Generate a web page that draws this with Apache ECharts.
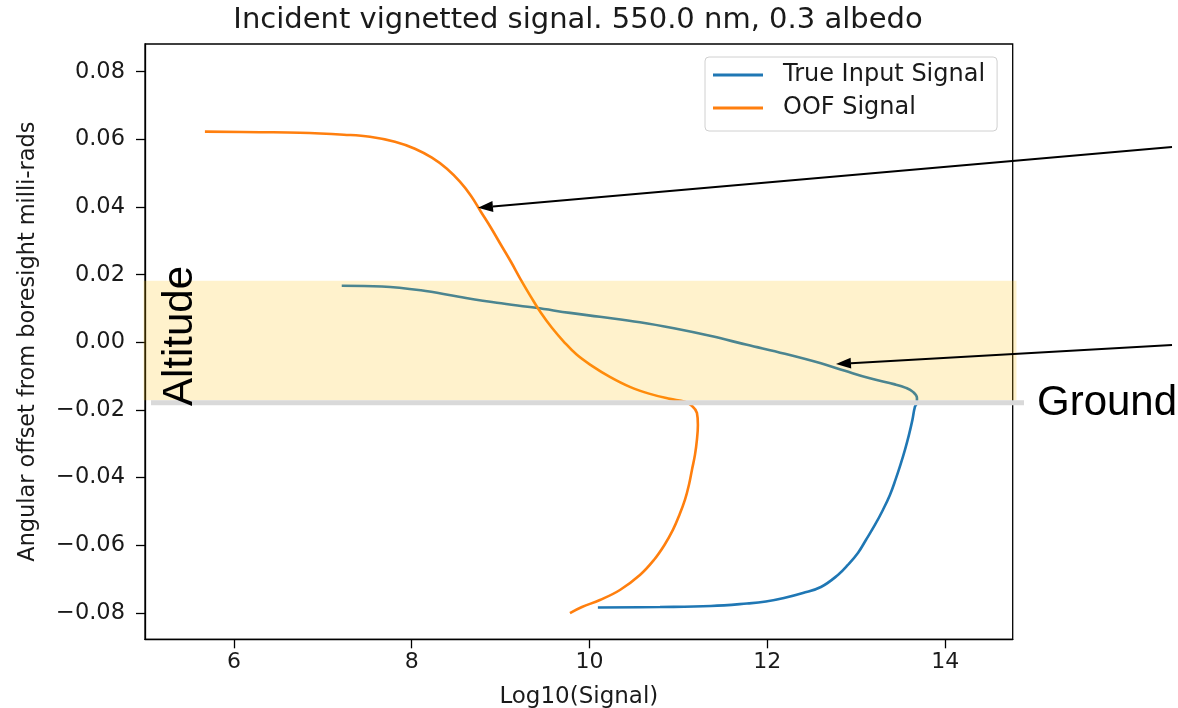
<!DOCTYPE html>
<html><head><meta charset="utf-8">
<script src="https://cdn.jsdelivr.net/npm/echarts@6/dist/echarts.min.js"></script>
<style>html,body{margin:0;padding:0;background:#fff}#c{width:1178px;height:708px}</style>
</head><body><div id="c"></div>
<script>
const titleText = 'Incident vignetted signal. 550.0 nm, 0.3 albedo';
const xName = 'Log10(Signal)';
const yName = 'Angular offset from boresight milli-rads';
const xTicks = [6, 8, 10, 12, 14];
const yTicks = [-0.08, -0.06, -0.04, -0.02, 0, 0.02, 0.04, 0.06, 0.08];
const seriesNames = ['True Input Signal', 'OOF Signal'];

const trueX = [7.213, 7.665, 8.103, 8.531, 8.958, 9.397, 9.780, 10.117, 10.567, 10.949, 11.354, 11.771, 12.198, 12.603, 12.873, 13.154, 13.435, 13.559, 13.638, 13.683, 13.683, 13.660, 13.632, 13.593, 13.548, 13.497, 13.441, 13.379, 13.300, 13.210, 13.109, 13.019, 12.906, 12.794, 12.603, 12.400, 12.187, 11.984, 11.771, 11.366, 10.792, 10.094];
const trueY = [0.01672, 0.01651, 0.01538, 0.01346, 0.01169, 0.01020, 0.00870, 0.00754, 0.00592, 0.00414, 0.00192, -0.00074, -0.00340, -0.00621, -0.00843, -0.01065, -0.01243, -0.01346, -0.01464, -0.01642, -0.01790, -0.01908, -0.02293, -0.02737, -0.03180, -0.03624, -0.04068, -0.04512, -0.04956, -0.05399, -0.05843, -0.06228, -0.06583, -0.06879, -0.07234, -0.07411, -0.07559, -0.07663, -0.07722, -0.07796, -0.07825, -0.07840];

const oofX = [5.674, 6.292, 6.742, 7.237, 7.530, 7.811, 8.036, 8.227, 8.396, 8.542, 8.666, 8.778, 8.891, 9.003, 9.116, 9.228, 9.341, 9.453, 9.577, 9.712, 9.858, 10.027, 10.229, 10.454, 10.679, 10.904, 11.073, 11.151, 11.208, 11.219, 11.208, 11.186, 11.152, 11.118, 11.073, 11.011, 10.938, 10.843, 10.724, 10.567, 10.342, 10.117, 9.915, 9.780];
const oofY = [0.06228, 0.06213, 0.06198, 0.06139, 0.06080, 0.05932, 0.05725, 0.05459, 0.05133, 0.04749, 0.04334, 0.03861, 0.03388, 0.02885, 0.02382, 0.01849, 0.01346, 0.00873, 0.00429, 0.00015, -0.00370, -0.00695, -0.01021, -0.01317, -0.01524, -0.01672, -0.01760, -0.01879, -0.02086, -0.02441, -0.02885, -0.03328, -0.03772, -0.04216, -0.04660, -0.05104, -0.05547, -0.05991, -0.06435, -0.06879, -0.07322, -0.07618, -0.07825, -0.08003];

const bandTop = 0.0182;
const groundLevel = -0.0179;
const oofArrowTip = [8.745, 0.0398];
const trueArrowTip = [12.772, -0.0064];

function zip(xs, ys) { return xs.map((x, i) => [x, ys[i]]); }
const fam = '"DejaVu Sans", sans-serif';
const txt = '#1a1a1a';

const chart = echarts.init(document.getElementById('c'), null, { renderer: 'canvas' });
chart.setOption({
  animation: false,
  backgroundColor: '#fff',
  title: {
    text: titleText, left: 578, top: 6, textAlign: 'center', padding: 0,
    textStyle: { fontFamily: fam, fontSize: 29, fontWeight: 'normal', color: txt }
  },
  legend: {
    data: seriesNames.map(n => ({ name: n, icon: 'rect' })),
    orient: 'vertical', left: 705, top: 57,
    itemWidth: 50, itemHeight: 3, itemGap: 9,
    padding: [6, 12, 11, 8],
    borderColor: '#d0d0d0', borderWidth: 1, borderRadius: 4,
    backgroundColor: 'rgba(255,255,255,0.85)',
    textStyle: { fontFamily: fam, fontSize: 24, color: txt, padding: [0, 0, 0, 15] }
  },
  grid: {
    left: 145, top: 44, right: 165.3, bottom: 68.7,
    containLabel: false, outerBoundsMode: 'none',
    show: true, borderColor: '#000', borderWidth: 1.3, backgroundColor: 'transparent'
  },
  xAxis: {
    type: 'value', min: 5, max: 14.76,
    name: xName, nameLocation: 'middle', nameGap: 46, nameMoveOverlap: false,
    nameTextStyle: { fontFamily: fam, fontSize: 23, color: txt },
    axisLine: { show: true, onZero: false, lineStyle: { color: '#000', width: 1.3 } },
    axisTick: { show: true, inside: false, length: 9, customValues: xTicks, lineStyle: { color: '#000', width: 1.3 } },
    axisLabel: { customValues: xTicks, margin: 12, fontFamily: fam, fontSize: 22, color: txt },
    splitLine: { show: false }
  },
  yAxis: {
    type: 'value', min: -0.0878, max: 0.0882,
    name: yName, nameLocation: 'middle', nameGap: 106, nameRotate: 90, nameMoveOverlap: false,
    nameTextStyle: { fontFamily: fam, fontSize: 22.4, color: txt },
    axisLine: { show: true, onZero: false, lineStyle: { color: '#000', width: 1.3 } },
    axisTick: { show: true, inside: false, length: 9, customValues: yTicks, lineStyle: { color: '#000', width: 1.3 } },
    axisLabel: {
      customValues: yTicks, margin: 20, fontFamily: fam, fontSize: 22.5, color: txt,
      formatter: v => (v < -1e-9 ? '\u2212' : '') + Math.abs(v).toFixed(2)
    },
    splitLine: { show: false }
  },
  series: [
    {
      type: 'line', name: seriesNames[0], data: zip(trueX, trueY), smooth: 0.4,
      symbol: 'none', showSymbol: false, clip: true,
      lineStyle: { color: '#1f77b4', width: 2.6 }, itemStyle: { color: '#1f77b4' }, z: 3
    },
    {
      type: 'line', name: seriesNames[1], data: zip(oofX, oofY), smooth: 0.4,
      symbol: 'none', showSymbol: false, clip: true,
      lineStyle: { color: '#ff7f0e', width: 2.6 }, itemStyle: { color: '#ff7f0e' }, z: 3
    }
  ]
});

function arrow(tip, tail) {
  const dx = tip[0] - tail[0], dy = tip[1] - tail[1];
  const L = Math.hypot(dx, dy), ux = dx / L, uy = dy / L;
  const hl = 15, hw = 5.5;
  const bx = tip[0] - ux * hl, by = tip[1] - uy * hl;
  return [
    { type: 'line', z: 60, silent: true, shape: { x1: tail[0], y1: tail[1], x2: bx, y2: by }, style: { stroke: '#000', lineWidth: 2 } },
    { type: 'polygon', z: 60, silent: true, shape: { points: [tip, [bx - uy * hw, by + ux * hw], [bx + uy * hw, by - ux * hw]] }, style: { fill: '#000' } }
  ];
}

const yTopPx = chart.convertToPixel({ gridIndex: 0 }, [5, bandTop])[1];
const yGroundPx = chart.convertToPixel({ gridIndex: 0 }, [5, groundLevel])[1];
const tip1 = chart.convertToPixel({ gridIndex: 0 }, oofArrowTip);
const tip2 = chart.convertToPixel({ gridIndex: 0 }, trueArrowTip);

chart.setOption({
  graphic: [
    { type: 'rect', z: 50, silent: true, shape: { x: 143.5, y: yTopPx, width: 873, height: yGroundPx - 2.5 - yTopPx }, style: { fill: 'rgba(255,192,0,0.2)' } },
    { type: 'line', z: 51, silent: true, shape: { x1: 151, y1: yGroundPx, x2: 1024, y2: yGroundPx }, style: { stroke: '#d9d9d9', lineWidth: 5 } },
    { type: 'text', z: 52, silent: true, x: 180, y: 336, rotation: Math.PI / 2,
      style: { text: 'Altitude', font: '42px "Liberation Sans", Arial, sans-serif', fill: '#000', align: 'center', verticalAlign: 'middle', textAlign: 'center', textVerticalAlign: 'middle' } },
    { type: 'text', z: 52, silent: true, x: 1037, y: 403,
      style: { text: 'Ground', font: '42px "Liberation Sans", Arial, sans-serif', fill: '#000', align: 'left', verticalAlign: 'middle', textAlign: 'left', textVerticalAlign: 'middle' } },
    ...arrow(tip1, [1172, 147]),
    ...arrow(tip2, [1172, 345])
  ]
});
</script></body></html>
